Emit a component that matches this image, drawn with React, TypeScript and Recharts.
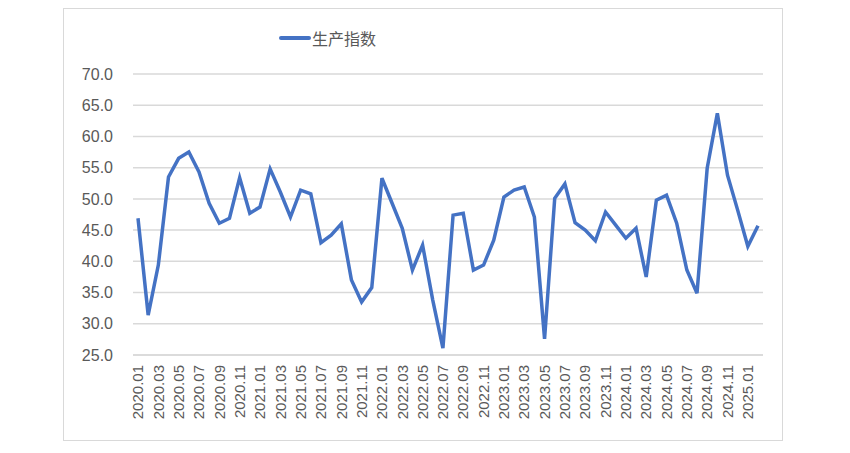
import { LineChart, Line, XAxis, YAxis, CartesianGrid } from "recharts";

const months = [
  "2020.01", "2020.02", "2020.03", "2020.04", "2020.05", "2020.06", "2020.07", "2020.08", "2020.09", "2020.10", "2020.11", "2020.12",
  "2021.01", "2021.02", "2021.03", "2021.04", "2021.05", "2021.06", "2021.07", "2021.08", "2021.09", "2021.10", "2021.11", "2021.12",
  "2022.01", "2022.02", "2022.03", "2022.04", "2022.05", "2022.06", "2022.07", "2022.08", "2022.09", "2022.10", "2022.11", "2022.12",
  "2023.01", "2023.02", "2023.03", "2023.04", "2023.05", "2023.06", "2023.07", "2023.08", "2023.09", "2023.10", "2023.11", "2023.12",
  "2024.01", "2024.02", "2024.03", "2024.04", "2024.05", "2024.06", "2024.07", "2024.08", "2024.09", "2024.10", "2024.11", "2024.12",
  "2025.01", "2025.02",
];

const productionIndex = [
  46.9, 31.4, 39.4, 53.5, 56.5, 57.5, 54.3, 49.3, 46.1, 46.9, 53.4, 47.7,
  48.7, 54.8, 51.1, 47.1, 51.4, 50.8, 43.0, 44.2, 46.0, 37.0, 33.5, 35.8,
  53.3, 49.3, 45.3, 38.6, 42.6, 33.8, 26.1, 47.4, 47.7, 38.6, 39.4, 43.4,
  50.3, 51.4, 51.9, 47.1, 27.6, 50.1, 52.4, 46.2, 45.0, 43.3, 47.9, 45.8,
  43.7, 45.3, 37.5, 49.8, 50.6, 46.1, 38.6, 34.9, 54.9, 63.7, 53.8, 48.2,
  42.4, 45.7,
];

const yTicks = [25, 30, 35, 40, 45, 50, 55, 60, 65, 70];

const seriesName = "生产指数";

const data = months.map((m, i) => ({ month: m, value: productionIndex[i] }));

const FONT = '"Liberation Sans", Arial, "Noto Sans CJK SC", sans-serif';
const LINE_COLOR = "#4472C4";

const MonthTick = ({ x, y, payload }: any) => (
  <text
    x={x}
    y={y}
    transform={`rotate(-90, ${x}, ${y})`}
    textAnchor="end"
    dy="0.35em"
    fontSize={15}
    fill="#595959"
    fontFamily={FONT}
  >
    {payload.value}
  </text>
);

export default function App() {
  return (
    <div style={{ position: "absolute", left: 0, top: 0, width: 850, height: 453, background: "#fff" }}>
      <div
        style={{
          position: "absolute",
          left: 63,
          top: 8,
          width: 718,
          height: 431,
          border: "1px solid #d9d9d9",
        }}
      />
      {/* legend drawn by hand so it does not eat plot space */}
      <div
        style={{
          position: "absolute",
          left: 279,
          top: 26,
          display: "flex",
          alignItems: "center",
          fontFamily: FONT,
        }}
      >
        <svg width={32} height={10}>
          <line x1={2} y1={5} x2={30} y2={5} stroke={LINE_COLOR} strokeWidth={4} strokeLinecap="round" />
        </svg>
        <span style={{ fontSize: 16, color: "#595959", marginLeft: 1 }}>{seriesName}</span>
      </div>
      <LineChart
        width={850}
        height={453}
        data={data}
        margin={{ top: 74, right: 87, bottom: 28, left: 73 }}
        style={{ position: "absolute", left: 0, top: 0 }}
      >
        <CartesianGrid vertical={false} stroke="#d9d9d9" strokeWidth={1.5} />
        <XAxis
          dataKey="month"
          interval={1}
          tick={<MonthTick />}
          tickLine={false}
          tickSize={0}
          tickMargin={10}
          axisLine={{ stroke: "#d9d9d9", strokeWidth: 1.5 }}
          height={70}
          padding={{ left: 5, right: 5 }}
        />
        <YAxis
          domain={[25, 70]}
          ticks={yTicks}
          tickFormatter={(v: number) => v.toFixed(1)}
          tick={{ fontSize: 16, fill: "#595959", fontFamily: FONT }}
          axisLine={false}
          tickLine={false}
          tickSize={0}
          tickMargin={20}
          width={60}
        />
        <Line
          type="linear"
          dataKey="value"
          name={seriesName}
          stroke={LINE_COLOR}
          strokeWidth={3.5}
          dot={false}
          isAnimationActive={false}
        />
      </LineChart>
    </div>
  );
}
